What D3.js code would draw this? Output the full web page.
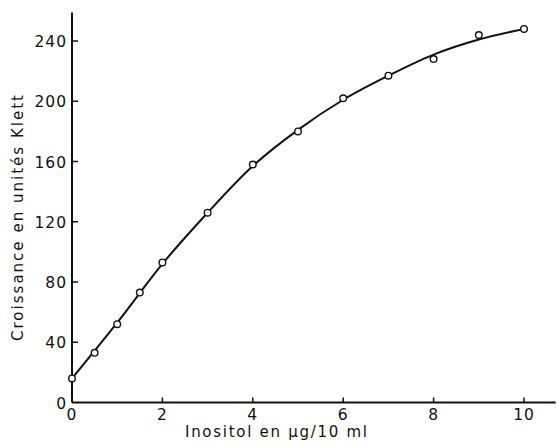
<!DOCTYPE html>
<html lang="fr">
  <head>
    <meta charset="utf-8" />
    <title>Croissance en fonction de l'inositol</title>
    <script src="https://cdnjs.cloudflare.com/ajax/libs/d3/7.8.5/d3.min.js"></script>
    <style>
      body {
        margin: 0;
        background: #ffffff;
      }
      svg text {
        font-family: "DejaVu Sans", sans-serif;
        fill: #111;
      }
      .tick-label {
        font-size: 15.5px;
        letter-spacing: 1px;
      }
      .axis-title {
        font-size: 15px;
      }
    </style>
  </head>
  <body>
    <div id="chart"></div>
    <script>
      // measured points
      const inositol = [0, 0.5, 1, 1.5, 2, 3, 4, 5, 6, 7, 8, 9, 10];
      const growth = [16, 33, 52, 73, 93, 126, 158, 180, 202, 217, 228, 244, 248];

      // hand drawn fitted curve
      const curveX = [0, 1, 2, 3, 4, 5, 6, 7, 8, 9, 10];
      const curveY = [16, 53, 92, 126, 157, 181, 201, 217, 231, 241, 248];

      const xTicks = [0, 2, 4, 6, 8, 10];
      const yTicks = [0, 40, 80, 120, 160, 200, 240];

      const width = 557;
      const height = 442;

      const x = d3.scaleLinear().domain([0, 10]).range([72, 524]);
      const y = d3.scaleLinear().domain([0, 240]).range([402.5, 41]);

      const svg = d3
        .select("#chart")
        .append("svg")
        .attr("width", width)
        .attr("height", height);

      // y axis
      svg
        .append("line")
        .attr("x1", x(0))
        .attr("x2", x(0))
        .attr("y1", y(259))
        .attr("y2", y(0))
        .attr("stroke", "#111")
        .attr("stroke-width", 2);

      // x axis
      svg
        .append("line")
        .attr("x1", x(0))
        .attr("x2", x(10.7))
        .attr("y1", y(0))
        .attr("y2", y(0))
        .attr("stroke", "#111")
        .attr("stroke-width", 2);

      svg
        .selectAll(".ytick")
        .data(yTicks.filter((d) => d > 0))
        .enter()
        .append("line")
        .attr("x1", x(0))
        .attr("x2", x(0) + 6)
        .attr("y1", (d) => y(d))
        .attr("y2", (d) => y(d))
        .attr("stroke", "#111")
        .attr("stroke-width", 1.5);

      svg
        .selectAll(".ylab")
        .data(yTicks)
        .enter()
        .append("text")
        .attr("class", "tick-label")
        .attr("x", x(0) - 5)
        .attr("y", (d) => y(d) + 6)
        .attr("text-anchor", "end")
        .text((d) => d);

      svg
        .selectAll(".xtick")
        .data(xTicks.filter((d) => d > 0))
        .enter()
        .append("line")
        .attr("x1", (d) => x(d))
        .attr("x2", (d) => x(d))
        .attr("y1", y(0))
        .attr("y2", y(0) - 5)
        .attr("stroke", "#111")
        .attr("stroke-width", 1.5);

      svg
        .selectAll(".xlab")
        .data(xTicks)
        .enter()
        .append("text")
        .attr("class", "tick-label")
        .attr("x", (d) => x(d))
        .attr("y", 419.5)
        .attr("text-anchor", "middle")
        .text((d) => d);

      // axis titles
      svg
        .append("text")
        .attr("class", "axis-title")
        .attr("x", 276)
        .attr("y", 437)
        .attr("text-anchor", "middle")
        .attr("textLength", 182)
        .text("Inositol en \u00b5g/10 ml");

      svg
        .append("text")
        .attr("class", "axis-title")
        .attr("transform", "translate(23,218) rotate(-90)")
        .attr("text-anchor", "middle")
        .attr("textLength", 246)
        .text("Croissance en unités Klett");

      // fitted curve
      const line = d3
        .line()
        .x((d, i) => x(curveX[i]))
        .y((d) => y(d))
        .curve(d3.curveMonotoneX);

      svg
        .append("path")
        .datum(curveY)
        .attr("d", line)
        .attr("fill", "none")
        .attr("stroke", "#111")
        .attr("stroke-width", 2);

      // data points
      svg
        .selectAll(".pt")
        .data(growth)
        .enter()
        .append("circle")
        .attr("cx", (d, i) => x(inositol[i]))
        .attr("cy", (d) => y(d))
        .attr("r", 3.3)
        .attr("fill", "#fff")
        .attr("stroke", "#111")
        .attr("stroke-width", 1.4);
    </script>
  </body>
</html>
